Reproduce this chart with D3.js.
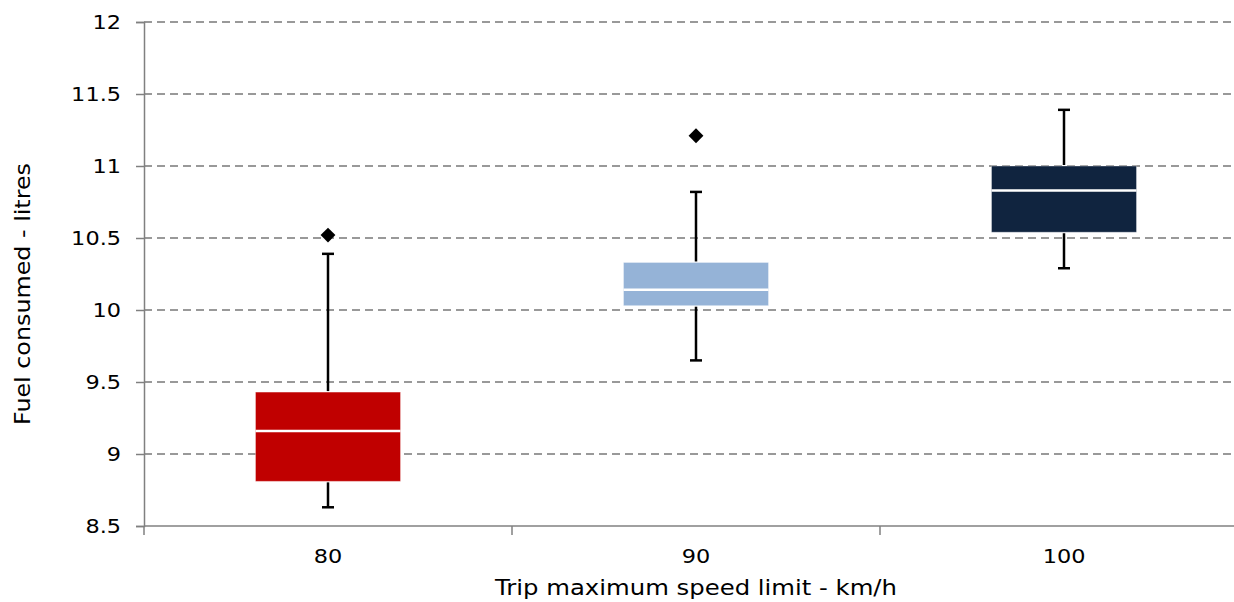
<!DOCTYPE html>
<html><head><meta charset="utf-8">
<script src="https://cdn.jsdelivr.net/npm/d3@7"></script>
<style>body{margin:0;background:#fff;} text{font-family:"DejaVu Sans",Verdana,sans-serif;fill:#000;}</style>
</head><body>
<svg id="c" width="1234" height="602"></svg>
<script>
const categories = ["80","90","100"];
const whiskerLow = [8.63, 9.65, 10.29];
const q1 = [8.81, 10.03, 10.54];
const median = [9.16, 10.14, 10.83];
const q3 = [9.43, 10.33, 11.0];
const whiskerHigh = [10.39, 10.82, 11.39];
const outliers = [10.52, 11.21, null];
const colors = ["#C00000", "#95B3D7", "#10243F"];
const yTicks = [8.5, 9, 9.5, 10, 10.5, 11, 11.5, 12];

const svg = d3.select("#c");
const x = d3.scaleBand().domain(categories).range([144, 1248]);
const y = d3.scaleLinear().domain([8.5, 12]).range([526, 22]);

function stretch(sel, f) {
  sel.each(function() {
    const w = this.getComputedTextLength();
    d3.select(this).attr("textLength", w * f).attr("lengthAdjust", "spacingAndGlyphs");
  });
}

// grid
svg.append("g").selectAll("line").data(yTicks.filter(t => t > 8.5)).join("line")
  .attr("x1", 144).attr("x2", 1234).attr("y1", d => y(d)).attr("y2", d => y(d))
  .attr("stroke", "#999").attr("stroke-width", 2).attr("stroke-dasharray", "8,5");

// y axis
const yAxis = svg.append("g").attr("transform", "translate(144,0)")
  .call(d3.axisLeft(y).tickValues(yTicks).tickSize(8).tickPadding(15).tickFormat(d => String(d)));
yAxis.select(".domain").attr("stroke", "#808080").attr("stroke-width", 1.5);
yAxis.selectAll(".tick line").attr("stroke", "#808080").attr("stroke-width", 1.5);
yAxis.selectAll(".tick text").attr("font-size", 20).attr("font-family", "DejaVu Sans").attr("fill", "#000").call(stretch, 1.12);

// x axis
const xAxis = svg.append("g").attr("transform", "translate(0,526)")
  .call(d3.axisBottom(x).tickSize(0).tickPadding(23));
xAxis.select(".domain").remove();
xAxis.selectAll(".tick text").attr("font-size", 20).attr("font-family", "DejaVu Sans").attr("fill", "#000").call(stretch, 1.12);
svg.append("line").attr("x1", 144).attr("x2", 1234).attr("y1", 526).attr("y2", 526)
  .attr("stroke", "#808080").attr("stroke-width", 1.5);
const bounds = categories.map(c => x(c)).concat([x.range()[1]]);
svg.append("g").selectAll("line").data(bounds).join("line")
  .attr("x1", d => d).attr("x2", d => d).attr("y1", 526).attr("y2", 535)
  .attr("stroke", "#808080").attr("stroke-width", 1.5);

// boxes
const bw = 145;
const g = svg.append("g");
categories.forEach((c, i) => {
  const cx = x(c) + x.bandwidth() / 2;
  g.append("line").attr("x1", cx).attr("x2", cx).attr("y1", y(q3[i]) - 1).attr("y2", y(whiskerHigh[i]))
    .attr("stroke", "#000").attr("stroke-width", 2.5);
  g.append("line").attr("x1", cx).attr("x2", cx).attr("y1", y(q1[i]) + 1).attr("y2", y(whiskerLow[i]))
    .attr("stroke", "#000").attr("stroke-width", 2.5);
  [whiskerHigh[i], whiskerLow[i]].forEach(v => {
    g.append("line").attr("x1", cx - 6).attr("x2", cx + 6).attr("y1", y(v)).attr("y2", y(v))
      .attr("stroke", "#000").attr("stroke-width", 2.5);
  });
  g.append("rect").attr("x", cx - bw / 2).attr("width", bw)
    .attr("y", y(q3[i])).attr("height", y(q1[i]) - y(q3[i]))
    .attr("fill", colors[i]).attr("stroke", "#fff").attr("stroke-opacity", 0.35).attr("stroke-width", 1);
  g.append("line").attr("x1", cx - bw / 2).attr("x2", cx + bw / 2).attr("y1", y(median[i])).attr("y2", y(median[i]))
    .attr("stroke", "#fff").attr("stroke-width", 2.5);
  if (outliers[i] != null) {
    g.append("path").attr("d", d3.symbol(d3.symbolDiamond2, 140)())
      .attr("transform", `translate(${cx},${y(outliers[i])})`).attr("fill", "#000");
  }
});

// titles
svg.append("text").attr("x", 696).attr("y", 595).attr("text-anchor", "middle")
  .attr("font-size", 22).attr("textLength", 402).attr("lengthAdjust", "spacingAndGlyphs")
  .text("Trip maximum speed limit - km/h");
svg.append("text").attr("transform", "translate(30,294) rotate(-90)").attr("text-anchor", "middle")
  .attr("font-size", 22).attr("textLength", 262).attr("lengthAdjust", "spacingAndGlyphs")
  .text("Fuel consumed - litres");
</script>
</body></html>
